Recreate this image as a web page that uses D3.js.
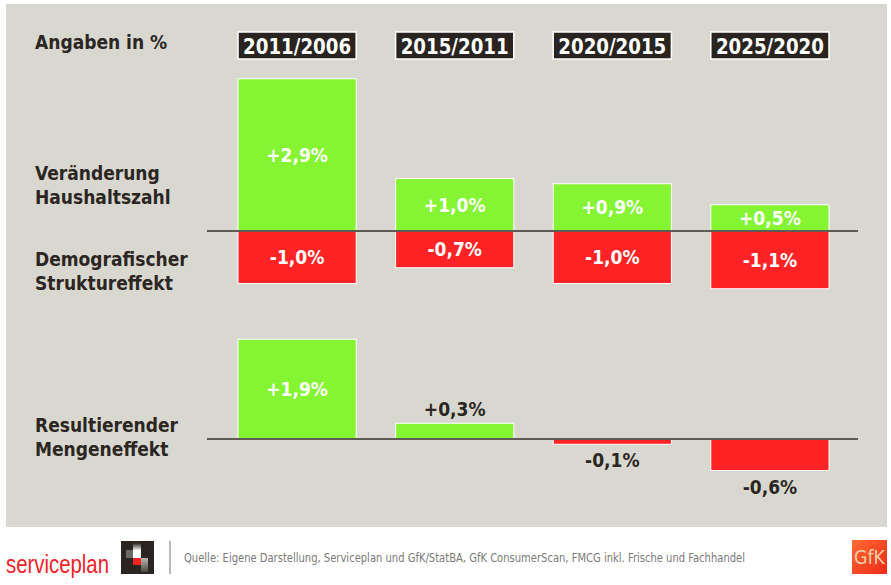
<!DOCTYPE html>
<html>
<head>
<meta charset="utf-8">
<script src="https://cdn.jsdelivr.net/npm/d3@7"></script>
<style>
  body { margin: 0; background: #fff; }
  svg text { font-family: "DejaVu Sans Condensed", "Liberation Sans Narrow", "DejaVu Sans", sans-serif; font-stretch: condensed; }
</style>
</head>
<body>
<svg id="chart" width="891" height="585"></svg>
<script>
// chart values
var periods = ["2011/2006", "2015/2011", "2020/2015", "2025/2020"];
var haushalt = [2.9, 1.0, 0.9, 0.5];     // Veränderung Haushaltszahl
var struktur = [-1.0, -0.7, -1.0, -1.1]; // Demografischer Struktureffekt
var menge = [1.9, 0.3, -0.1, -0.6];      // Resultierender Mengeneffekt
var rowLabels = [
  ["Veränderung", "Haushaltszahl"],
  ["Demografischer", "Struktureffekt"],
  ["Resultierender", "Mengeneffekt"]
];
var quelle = "Quelle: Eigene Darstellung, Serviceplan und GfK/StatBA, GfK ConsumerScan, FMCG inkl. Frische und Fachhandel";

var GREEN = "#85f433", RED = "#ff2326", DARK = "#2b2622";

var svg = d3.select("#chart");

// gray panel
svg.append("rect").attr("x", 6).attr("y", 4).attr("width", 881).attr("height", 523).attr("fill", "#d9d8d0");

var x = d3.scaleBand().domain(periods).range([238, 829]).paddingInner(0.25).paddingOuter(0);
// same px per percent in both panels
var yTop = d3.scaleLinear().domain([-2, 3]).range([336, 73.5]);
var yBot = d3.scaleLinear().domain([-1, 2]).range([491.5, 334]);

var de = d3.formatLocale({decimal: ",", thousands: ".", grouping: [3], currency: ["", "€"], minus: "-"});
var fmt = function(v) { return de.format("+.1f")(v) + "%"; };

// header
svg.append("text").attr("x", 35).attr("y", 49).attr("font-size", 19).attr("font-weight", "bold")
  .attr("fill", DARK).text("Angaben in %");

var head = svg.selectAll("g.head").data(periods).enter().append("g").attr("class", "head");
head.append("rect")
  .attr("x", function(d) { return x(d); }).attr("y", 32)
  .attr("width", x.bandwidth()).attr("height", 27)
  .attr("fill", "#2a2420").attr("stroke", "#fff").attr("stroke-width", 1.5);
head.append("text")
  .attr("x", function(d) { return x(d) + x.bandwidth() / 2; }).attr("y", 54)
  .attr("text-anchor", "middle").attr("font-size", 22).attr("font-weight", "bold")
  .attr("textLength", 108).attr("lengthAdjust", "spacingAndGlyphs")
  .attr("fill", "#fff").text(function(d) { return d; });

// row labels
var labelY = [180, 266, 432];
rowLabels.forEach(function(lines, i) {
  var t = svg.append("text").attr("x", 35).attr("y", labelY[i]).attr("font-size", 19)
    .attr("font-weight", "bold").attr("fill", DARK);
  lines.forEach(function(l, j) {
    t.append("tspan").attr("x", 35).attr("dy", j ? 24 : 0).text(l);
  });
});

// minH: bars taller than this get the label inside
function drawBars(vals, y, cls, minH) {
  var g = svg.append("g").attr("class", cls);
  var data = vals.map(function(v, i) { return {p: periods[i], v: v}; });
  var inside = function(d) { return Math.abs(y(d.v) - y(0)) > minH; };
  g.selectAll("rect").data(data).enter().append("rect")
    .attr("x", function(d) { return x(d.p); })
    .attr("y", function(d) { return Math.min(y(d.v), y(0)); })
    .attr("width", x.bandwidth())
    .attr("height", function(d) { return Math.abs(y(d.v) - y(0)); })
    .attr("fill", function(d) { return d.v >= 0 ? GREEN : RED; })
    .attr("stroke", "#fff").attr("stroke-width", 1);
  g.selectAll("text").data(data).enter().append("text")
    .attr("x", function(d) { return x(d.p) + x.bandwidth() / 2; })
    .attr("y", function(d) {
      if (inside(d)) return (y(d.v) + y(0)) / 2 + 7;
      return d.v >= 0 ? y(d.v) - 7 : y(d.v) + 23;
    })
    .attr("text-anchor", "middle").attr("font-size", 19).attr("font-weight", "bold")
    .attr("fill", function(d) { return inside(d) ? "#fff" : DARK; })
    .text(function(d) { return fmt(d.v); });
}

drawBars(haushalt, yTop, "haushalt", 20);
drawBars(struktur, yTop, "struktur", 20);
drawBars(menge, yBot, "menge", 40);

// zero lines
[yTop, yBot].forEach(function(y) {
  svg.append("line")
    .attr("x1", x.range()[0] - 31).attr("x2", x.range()[1] + 29)
    .attr("y1", y(0)).attr("y2", y(0))
    .attr("stroke", "#5e5a55").attr("stroke-width", 2);
});

// footer
svg.append("text").attr("x", 6).attr("y", 573).attr("font-size", 25).attr("fill", "#f0222a")
  .attr("textLength", 103).attr("lengthAdjust", "spacingAndGlyphs")
  .style("font-family", "'Liberation Sans', 'DejaVu Sans', sans-serif").text("serviceplan");

var logo = svg.append("g");
logo.append("rect").attr("x", 121).attr("y", 541).attr("width", 33).attr("height", 33).attr("fill", "#2a2520");
var grad = svg.append("defs").append("linearGradient").attr("id", "lg").attr("x1", 0).attr("y1", 0).attr("x2", 0).attr("y2", 1);
grad.append("stop").attr("offset", 0).attr("stop-color", "#2a2520");
grad.append("stop").attr("offset", 1).attr("stop-color", "#eeeeea");
var grad2 = svg.select("defs").append("linearGradient").attr("id", "lg2").attr("x1", 0).attr("y1", 0).attr("x2", 0).attr("y2", 1);
grad2.append("stop").attr("offset", 0).attr("stop-color", "#b8b8b0");
grad2.append("stop").attr("offset", 1).attr("stop-color", "#4a4842");
logo.append("rect").attr("x", 133).attr("y", 543).attr("width", 8).attr("height", 7).attr("fill", "url(#lg)");
logo.append("rect").attr("x", 126).attr("y", 550).attr("width", 7).attr("height", 8).attr("fill", "#6a6a62");
logo.append("rect").attr("x", 133).attr("y", 550).attr("width", 8).attr("height", 8).attr("fill", "#ffffff");
logo.append("rect").attr("x", 133).attr("y", 558).attr("width", 8).attr("height", 7).attr("fill", "#ff2020");
logo.append("rect").attr("x", 141).attr("y", 558).attr("width", 7).attr("height", 14).attr("fill", "url(#lg2)");

svg.append("line").attr("x1", 170).attr("x2", 170).attr("y1", 541).attr("y2", 574)
  .attr("stroke", "#a0a0a0").attr("stroke-width", 1.5);

svg.append("text").attr("x", 184).attr("y", 562).attr("font-size", 12.5).attr("fill", "#7a7a78")
  .attr("textLength", 561).attr("lengthAdjust", "spacingAndGlyphs").text(quelle);

var gg = svg.select("defs").append("linearGradient").attr("id", "gfk").attr("x1", 0).attr("y1", 0).attr("x2", 1).attr("y2", 1);
gg.append("stop").attr("offset", 0).attr("stop-color", "#ff6a33");
gg.append("stop").attr("offset", 1).attr("stop-color", "#ee2a18");
svg.append("rect").attr("x", 852).attr("y", 540).attr("width", 35).attr("height", 34).attr("fill", "url(#gfk)");
svg.append("text").attr("x", 869.5).attr("y", 564).attr("text-anchor", "middle").attr("font-size", 19)
  .attr("fill", "#f3cfa8").attr("textLength", 31).attr("lengthAdjust", "spacingAndGlyphs").text("GfK");
</script>
</body>
</html>
